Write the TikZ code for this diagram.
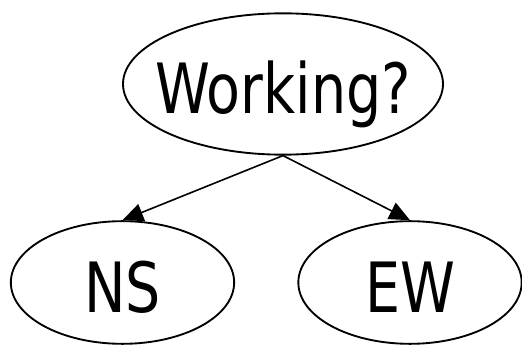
\documentclass[tikz,border=0pt]{standalone}
\usepackage{fontspec}
\newfontfamily\statefont{DejaVu Sans}[FakeStretch=0.8]
\usetikzlibrary{shapes.geometric, arrows.meta}

\begin{document}
\begin{tikzpicture}[x=0.75pt, y=-0.75pt,
        state/.style={draw, ellipse, line width=1.4pt, inner sep=0pt,
            text height=45pt, text depth=0pt,
            font=\statefont\fontsize{52}{60}\selectfont},
        edge/.style={line width=1.2pt, -{Triangle[length=15.5pt, width=13.5pt]}}]
        \useasboundingbox (0,0) rectangle (522,345);

        % Draw states
        \node[state, minimum width=240pt, minimum height=106pt] (work) at (283,84) {\makebox[0pt]{Working?}};
        \node[state, minimum width=167.5pt, minimum height=92pt] (ns) at (122.5,282.5) {\makebox[0pt]{NS}};
        \node[state, minimum width=167.5pt, minimum height=92pt] (ew) at (410,282.5) {\makebox[0pt]{EW}};

        % Draw transitions
        \draw[edge] (work.south) -- (ns.north);
        \draw[edge] (work.south) -- (ew.north);
    \end{tikzpicture}
\end{document}
